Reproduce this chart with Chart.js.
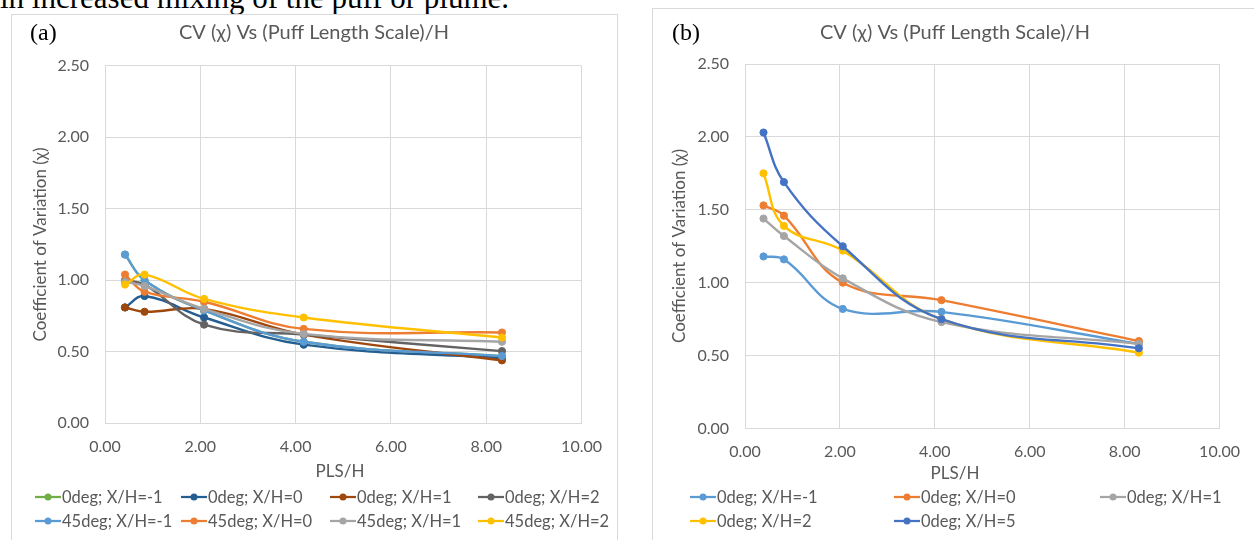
<!DOCTYPE html>
<html>
<head>
<meta charset="utf-8">
<title>CV vs PLS/H</title>
<script src="https://cdn.jsdelivr.net/npm/chart.js@4.4.0/dist/chart.umd.min.js"></script>
<style>
  body { margin: 0; width: 1254px; height: 540px; overflow: hidden; background: #fff; position: relative; }
  .lead { position: absolute; left: 0; top: -17px; font: 31px/30px "Liberation Serif", "Times New Roman", serif; white-space: nowrap; color: #000; }
  .frame { position: absolute; border: 1px solid #d9d9d9; background: #fff; }
  #frameA { left: 11px; top: 14px; width: 605px; height: 560px; }
  #frameB { left: 652px; top: 8px; width: 640px; height: 560px; }
  canvas { position: absolute; display: block; }
  #chartA { left: 12px; top: 15px; }
  #chartB { left: 653px; top: 9px; }
</style>
</head>
<body>
<div class="lead">in increased mixing of the puff or plume.</div>
<div class="frame" id="frameA"></div>
<div class="frame" id="frameB"></div>
<canvas id="chartA" width="604" height="525"></canvas>
<canvas id="chartB" width="601" height="531"></canvas>
<script>
// ---- panel (a): 0deg / 45deg release, CV against PLS/H ----
const xA = [0.42, 0.83, 2.08, 4.17, 8.33];
const namesA = ['0deg; X/H=-1', '0deg; X/H=0', '0deg; X/H=1', '0deg; X/H=2',
                '45deg; X/H=-1', '45deg; X/H=0', '45deg; X/H=1', '45deg; X/H=2'];
const a0degXm1 = [1.18, 1.00, 0.79, 0.57, 0.47];
const a0degX0  = [0.81, 0.89, 0.74, 0.55, 0.455];
const a0degX1  = [0.81, 0.78, 0.80, 0.62, 0.44];
const a0degX2  = [1.00, 0.97, 0.69, 0.62, 0.505];
const a45degXm1 = [1.18, 1.00, 0.79, 0.57, 0.47];
const a45degX0  = [1.04, 0.92, 0.85, 0.66, 0.635];
const a45degX1  = [0.99, 0.96, 0.80, 0.625, 0.57];
const a45degX2  = [0.97, 1.04, 0.87, 0.74, 0.60];
const colorsA = ['#70AD47', '#255E91', '#9E480E', '#636363', '#5B9BD5', '#ED7D31', '#A5A5A5', '#FFC000'];

// ---- panel (b): 0deg release only ----
const xB = [0.39, 0.82, 2.06, 4.14, 8.30];
const namesB = ['0deg; X/H=-1', '0deg; X/H=0', '0deg; X/H=1', '0deg; X/H=2', '0deg; X/H=5'];
const b0degXm1 = [1.18, 1.16, 0.82, 0.80, 0.58];
const b0degX0  = [1.53, 1.46, 1.00, 0.88, 0.60];
const b0degX1  = [1.44, 1.32, 1.03, 0.73, 0.58];
const b0degX2  = [1.75, 1.39, 1.22, 0.75, 0.52];
const b0degX5  = [2.03, 1.69, 1.25, 0.75, 0.55];
const colorsB = ['#5B9BD5', '#ED7D31', '#A5A5A5', '#FFC000', '#4472C4'];

// axis ticks
const xTicks = [0, 2, 4, 6, 8, 10];
const yTicks = [0, 0.5, 1, 1.5, 2, 2.5];

const TEXT = '#595959';
const GRID = '#d9d9d9';
const SANS = 'Lato, "Open Sans", sans-serif';

// titles, axis captions and the grid-style legend are painted here
const panelText = {
  id: 'panelText',
  afterDraw(chart, args, opts) {
    const ctx = chart.ctx;
    ctx.save();
    ctx.textBaseline = 'middle';

    ctx.fillStyle = '#000';
    ctx.font = '24px "Liberation Serif", serif';
    ctx.textAlign = 'left';
    ctx.fillText(opts.tag, opts.tagPos[0], opts.tagPos[1]);

    ctx.fillStyle = TEXT;
    ctx.font = '20px ' + SANS;
    ctx.textAlign = 'center';
    ctx.fillText(opts.title, opts.titlePos[0], opts.titlePos[1]);

    ctx.font = '17px ' + SANS;
    ctx.fillText(opts.xTitle, opts.xTitlePos[0], opts.xTitlePos[1]);
    ctx.save();
    ctx.translate(opts.yTitlePos[0], opts.yTitlePos[1]);
    ctx.rotate(-Math.PI / 2);
    ctx.fillText(opts.yTitle, 0, 0);
    ctx.restore();

    // legend: fixed columns, rows fill left to right
    ctx.font = '16.5px ' + SANS;
    ctx.textAlign = 'left';
    const cols = opts.legendCols, rows = opts.legendRows;
    chart.data.datasets.forEach((ds, i) => {
      const x = cols[i % cols.length];
      const y = rows[Math.floor(i / cols.length)];
      ctx.strokeStyle = ds.borderColor;
      ctx.lineWidth = 2.25;
      ctx.beginPath();
      ctx.moveTo(x, y);
      ctx.lineTo(x + 26, y);
      ctx.stroke();
      ctx.fillStyle = ds.borderColor;
      ctx.beginPath();
      ctx.arc(x + 13, y, 3.5, 0, Math.PI * 2);
      ctx.fill();
      ctx.fillStyle = TEXT;
      ctx.fillText(ds.label, x + 27, y + 1);
    });
    ctx.restore();
  }
};

function makeChart(canvasId, xs, series, names, colors, box, decor) {
  const canvas = document.getElementById(canvasId);
  const W = canvas.width, H = canvas.height;
  const n = series.length;
  const datasets = series.map((ys, i) => ({
    label: names[i],
    data: xs.map((x, j) => ({ x: x, y: ys[j] })),
    borderColor: colors[i],
    backgroundColor: colors[i],
    pointBackgroundColor: colors[i],
    pointBorderColor: colors[i],
    borderWidth: 2.4,
    pointRadius: 3.6,
    pointBorderWidth: 1,
    tension: 0.4,
    fill: false,
    order: n - i   // later series sit on top
  }));

  return new Chart(canvas, {
    type: 'line',
    data: { datasets: datasets },
    options: {
      responsive: false,
      animation: false,
      events: [],
      layout: { padding: { left: 0, top: box.top, right: W - box.right, bottom: 0 } },
      plugins: {
        legend: { display: false },
        tooltip: { enabled: false },
        panelText: decor
      },
      scales: {
        x: {
          type: 'linear',
          min: 0, max: 10,
          afterFit: s => { s.height = H - box.bottom; },
          afterBuildTicks: s => { s.ticks = xTicks.map(v => ({ value: v })); },
          ticks: { callback: v => v.toFixed(2), color: TEXT, font: { family: SANS, size: 16 }, padding: 14, maxRotation: 0 },
          grid: { color: GRID, lineWidth: 1, drawTicks: false },
          border: { color: GRID }
        },
        y: {
          min: 0, max: 2.5,
          afterFit: s => { s.width = box.left; },
          afterBuildTicks: s => { s.ticks = yTicks.map(v => ({ value: v })); },
          ticks: { callback: v => v.toFixed(2), color: TEXT, font: { family: SANS, size: 16 }, padding: 16 },
          grid: { color: GRID, lineWidth: 1, drawTicks: false },
          border: { color: GRID }
        }
      }
    },
    plugins: [panelText]
  });
}

makeChart('chartA', xA,
  [a0degXm1, a0degX0, a0degX1, a0degX2, a45degXm1, a45degX0, a45degX1, a45degX2],
  namesA, colorsA,
  { left: 93, right: 570, top: 50.8, bottom: 408.3 },
  {
    tag: '(a)', tagPos: [18, 19],
    title: 'CV (\u03c7) Vs (Puff Length Scale)/H', titlePos: [302, 18],
    xTitle: 'PLS/H', xTitlePos: [328, 457],
    yTitle: 'Coefficient of Variation (\u03c7)', yTitlePos: [29, 229.5],
    legendCols: [23, 169, 318, 466], legendRows: [482, 506]
  });

makeChart('chartB', xB,
  [b0degXm1, b0degX0, b0degX1, b0degX2, b0degX5],
  namesB, colorsB,
  { left: 92, right: 569, top: 55, bottom: 419.5 },
  {
    tag: '(b)', tagPos: [19, 25],
    title: 'CV (\u03c7) Vs (Puff Length Scale)/H', titlePos: [302, 24],
    xTitle: 'PLS/H', xTitlePos: [302, 465],
    yTitle: 'Coefficient of Variation (\u03c7)', yTitlePos: [27, 237],
    legendCols: [37, 241, 447], legendRows: [488, 512]
  });
</script>
</body>
</html>
